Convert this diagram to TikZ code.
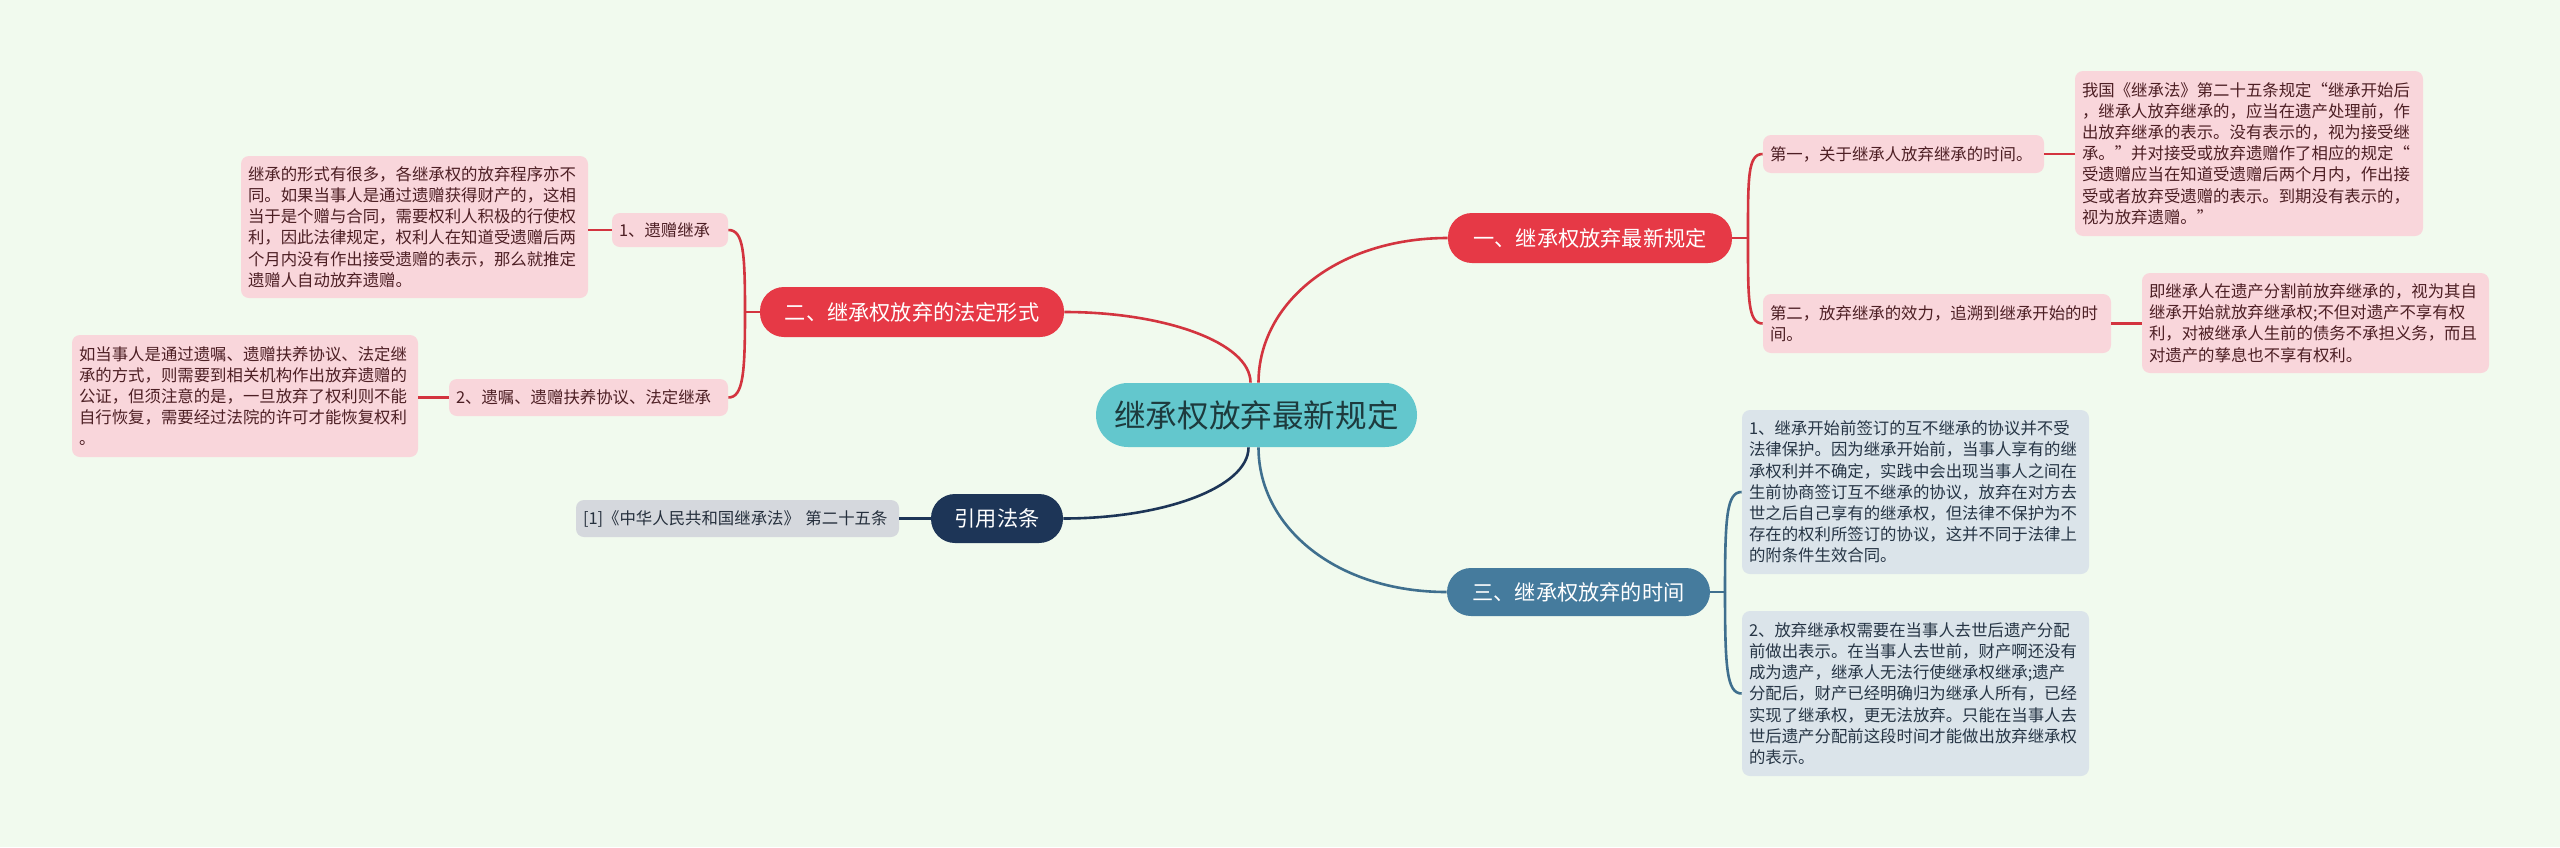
\documentclass[tikz,border=0pt]{standalone}
\usepackage{fontspec}
\setmainfont{Noto Sans CJK SC}
\definecolor{bgc}{HTML}{F1FAEE}
\definecolor{rootc}{HTML}{63C7CD}
\definecolor{roottext}{HTML}{1D3A3D}
\definecolor{redc}{HTML}{E63946}
\definecolor{redline}{HTML}{D3343F}
\definecolor{pinkc}{HTML}{F9D6DB}
\definecolor{pinktext}{HTML}{4D1F24}
\definecolor{bluec}{HTML}{457B9D}
\definecolor{blueline}{HTML}{3F6F8E}
\definecolor{bluegray}{HTML}{DBE4EA}
\definecolor{bluetext}{HTML}{263545}
\definecolor{navyc}{HTML}{1D3557}
\definecolor{grayc}{HTML}{D5D8DD}
\definecolor{graytext}{HTML}{26303D}
\begin{document}
\begin{tikzpicture}[x=0.5pt,y=-0.5pt,
  rootbox/.style={fill=rootc, text=roottext, rounded corners=16pt, inner sep=0pt,
    minimum width=160.5pt, minimum height=32pt, font=\fontsize{15.8pt}{18pt}\selectfont},
  mainbox/.style={rounded corners=12pt, inner sep=0pt, minimum height=25pt, text=white,
    font=\fontsize{10.6pt}{12pt}\selectfont},
  mainR/.style={mainbox, fill=redc},
  mainB/.style={mainbox, fill=bluec},
  mainN/.style={mainbox, fill=navyc},
  leaf/.style={rounded corners=4pt, inner xsep=3.5pt, inner ysep=0pt, align=left,
    font=\fontsize{8.2pt}{10.6pt}\selectfont},
  leafR/.style={leaf, fill=pinkc, text=pinktext},
  leafB/.style={leaf, fill=bluegray, text=bluetext},
  leafN/.style={leaf, fill=grayc, text=graytext},
  lineR/.style={draw=redline, line width=1.3pt},
  lineB/.style={draw=blueline, line width=1.3pt},
  lineN/.style={draw=navyc, line width=1.3pt}
]
\fill[bgc] (0,0) rectangle (2560,847);
\useasboundingbox (0,0) rectangle (2560,847);

% root and main branches
\node[rootbox] (root) at (1256.5,415) {继承权放弃最新规定};
\node[mainR, minimum width=142pt] (b1) at (1590,238) {一、继承权放弃最新规定};
\node[mainR, minimum width=152pt] (b2) at (912,312) {二、继承权放弃的法定形式};
\node[mainB, minimum width=131.5pt, minimum height=24pt] (b3) at (1578.5,592) {三、继承权放弃的时间};
\node[mainN, minimum width=66pt, minimum height=24.5pt] (b4) at (997,518.5) {引用法条};

% branch 1 leaves
\node[leafR, text width=133.5pt, minimum height=19pt] (d1) at (1903.5,154) {第一，关于继承人放弃继承的时间。};
\node[leafR, text width=167pt, minimum height=29.5pt] (d2) at (1937,323.5) {第二，放弃继承的效力，追溯到继承开始的时\\间。};
\node[leafR, text width=167pt, minimum height=82.5pt] (q1) at (2249,153.5) {我国《继承法》第二十五条规定“继承开始后\\，继承人放弃继承的，应当在遗产处理前，作\\出放弃继承的表示。没有表示的，视为接受继\\承。”并对接受或放弃遗赠作了相应的规定“\\受遗赠应当在知道受遗赠后两个月内，作出接\\受或者放弃受遗赠的表示。到期没有表示的，\\视为放弃遗赠。”};
\node[leafR, text width=166.5pt, minimum height=50pt] (q2) at (2315.5,323) {即继承人在遗产分割前放弃继承的，视为其自\\继承开始就放弃继承权;不但对遗产不享有权\\利，对被继承人生前的债务不承担义务，而且\\对遗产的孳息也不享有权利。};

% branch 3 leaves
\node[leafB, text width=166.5pt, minimum height=82pt] (t1) at (1915.5,492) {1、继承开始前签订的互不继承的协议并不受\\法律保护。因为继承开始前，当事人享有的继\\承权利并不确定，实践中会出现当事人之间在\\生前协商签订互不继承的协议，放弃在对方去\\世之后自己享有的继承权，但法律不保护为不\\存在的权利所签订的协议，这并不同于法律上\\的附条件生效合同。};
\node[leafB, text width=166.5pt, minimum height=82.5pt] (t2) at (1915.5,693.5) {2、放弃继承权需要在当事人去世后遗产分配\\前做出表示。在当事人去世前，财产啊还没有\\成为遗产，继承人无法行使继承权继承;遗产\\分配后，财产已经明确归为继承人所有，已经\\实现了继承权，更无法放弃。只能在当事人去\\世后遗产分配前这段时间才能做出放弃继承权\\的表示。};

% branch 2 leaves
\node[leafR, text width=51pt, minimum height=17pt] (f1) at (670,230) {1、遗赠继承};
\node[leafR, text width=132.5pt, minimum height=18.5pt] (f2) at (588.5,397.5) {2、遗嘱、遗赠扶养协议、法定继承};
\node[leafR, text width=166.5pt, minimum height=71pt] (f1t) at (414.5,227) {继承的形式有很多，各继承权的放弃程序亦不\\同。如果当事人是通过遗赠获得财产的，这相\\当于是个赠与合同，需要权利人积极的行使权\\利，因此法律规定，权利人在知道受遗赠后两\\个月内没有作出接受遗赠的表示，那么就推定\\遗赠人自动放弃遗赠。};
\node[leafR, text width=166pt, minimum height=61pt] (f2t) at (245,396) {如当事人是通过遗嘱、遗赠扶养协议、法定继\\承的方式，则需要到相关机构作出放弃遗赠的\\公证，但须注意的是，一旦放弃了权利则不能\\自行恢复，需要经过法院的许可才能恢复权利\\。};

% branch 4 leaf
\node[leafN, text width=154.5pt, minimum height=18.5pt] (cite) at (737.5,518.5) {[1]《中华人民共和国继承法》 第二十五条};

% junction coordinates
\coordinate (j1) at (1748,238);
\coordinate (j2) at (745,312);
\coordinate (j3) at (1725,592);

% root connectors
\draw[lineR] ([xshift=1pt]root.north) .. controls +(0,-80) and +(-110,0) .. (b1.west);
\draw[lineR] ([xshift=-3pt]root.north) .. controls +(0,-40) and +(100,0) .. (b2.east);
\draw[lineB] ([xshift=1pt]root.south) .. controls +(0,80) and +(-110,0) .. (b3.west);
\draw[lineN] ([xshift=-4pt]root.south) .. controls +(0,40) and +(100,0) .. (b4.east);

% branch 1
\draw[lineR] (b1.east) -- (j1);
\draw[lineR] (j1) .. controls +(0,-60) and +(-15,0) .. (d1.west);
\draw[lineR] (j1) .. controls +(0,60) and +(-15,0) .. (d2.west);
\draw[lineR] (d1.east) -- (d1.east -| q1.west);
\draw[lineR] (d2.east) -- (d2.east -| q2.west);

% branch 3
\draw[lineB] (b3.east) -- (j3);
\draw[lineB] (j3) .. controls +(0,-75) and +(-15,0) .. (t1.west);
\draw[lineB] (j3) .. controls +(0,75) and +(-15,0) .. (t2.west);

% branch 2
\draw[lineR] (b2.west) -- (j2);
\draw[lineR] (j2) .. controls +(0,-60) and +(15,0) .. (f1.east);
\draw[lineR] (j2) .. controls +(0,60) and +(15,0) .. (f2.east);
\draw[lineR] (f1.west) -- (f1.west -| f1t.east);
\draw[lineR] (f2.west) -- (f2.west -| f2t.east);

% branch 4
\draw[lineN] (b4.west) -- (cite.east);
\end{tikzpicture}
\end{document}
